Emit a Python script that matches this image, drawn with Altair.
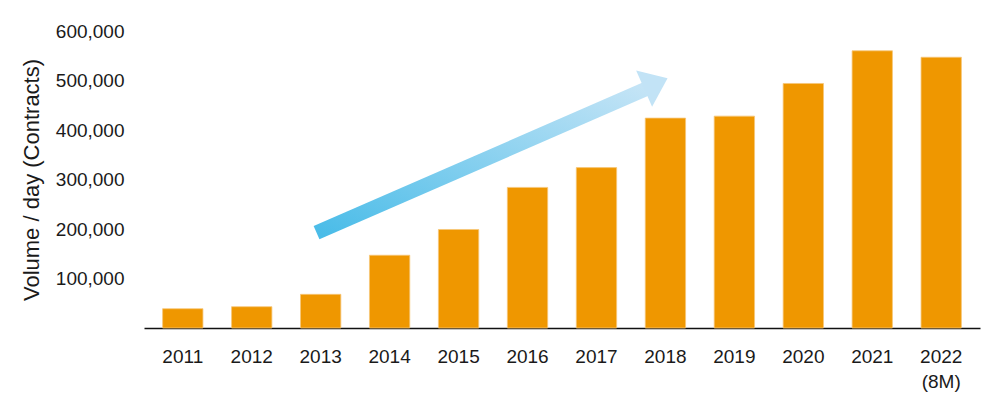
import altair as alt
import pandas as pd

# Bar data
years = ["2011", "2012", "2013", "2014", "2015", "2016",
         "2017", "2018", "2019", "2020", "2021", "2022"]
volumes = [39000, 43000, 68000, 147000, 199000, 284000,
           324000, 424000, 428000, 494000, 560000, 547000]

# Axis text
y_tick_values = [100000, 200000, 300000, 400000, 500000, 600000]
y_title = "Volume / day (Contracts)"
last_label_lines = ["2022", "(8M)"]

# Trend arrow (annotation), in year units / volume units
arrow_shaft_x = [2012.94, 2017.72]
arrow_shaft_y = [192500, 483000]
arrow_head_x = [2017.861]
arrow_head_y = [494000]

bars_df = pd.DataFrame({"year": years, "volume": volumes})
shaft_df = pd.DataFrame({"ax": arrow_shaft_x, "ay": arrow_shaft_y})
head_df = pd.DataFrame({"ax": arrow_head_x, "ay": arrow_head_y})

FONT = "Liberation Sans"
TXT = "#1a1a1a"

bars = alt.Chart(bars_df).mark_bar(
    color="#EF9700", stroke="#F6C779", strokeWidth=0.8
).encode(
    x=alt.X("year:N", sort=years,
            scale=alt.Scale(paddingInner=0.415, paddingOuter=0.27),
            axis=alt.Axis(title=None, labelAngle=0, ticks=False, grid=False,
                          labelPadding=19, labelFontSize=19, labelFont=FONT,
                          labelColor=TXT, labelLineHeight=25,
                          labelBaseline="top",
                          labelExpr="datum.value == '2022' ? ['2022', '(8M)'] : datum.label",
                          domainColor="#111111", domainWidth=1.5)),
    y=alt.Y("volume:Q",
            scale=alt.Scale(domain=[0, 600000], nice=False),
            axis=alt.Axis(title=y_title, values=y_tick_values, format=",d",
                          ticks=False, domain=False, grid=False,
                          labelPadding=20, labelFontSize=19, labelFont=FONT,
                          labelColor=TXT, titleFontSize=22, titleFont=FONT,
                          titleFontWeight="normal", titleColor=TXT,
                          titleX=-101)),
)

xq = alt.Scale(domain=[2010.4375, 2022.5625], nice=False, zero=False)

shaft = alt.Chart(shaft_df).mark_line(
    strokeWidth=14.5, strokeCap="butt",
    color=alt.Gradient(
        gradient="linear",
        stops=[alt.GradientStop(color="#4ABCE8", offset=0),
               alt.GradientStop(color="#C4E4F6", offset=1)],
        x1=0, x2=1, y1=1, y2=0),
).encode(
    x=alt.X("ax:Q", scale=xq, axis=None),
    y=alt.Y("ay:Q"),
)

head = alt.Chart(head_df).mark_point(
    shape="M0.6465,0 L-0.6465,-1 L-0.6465,1 Z",
    filled=True, fill="#C2E3F6", opacity=1, strokeWidth=0,
    size=1568, angle=336.3,
).encode(
    x=alt.X("ax:Q", scale=xq, axis=None),
    y=alt.Y("ay:Q"),
)

chart = alt.layer(bars, shaft, head).resolve_scale(x="independent").properties(
    width=836, height=297,
    background="white",
    autosize=alt.AutoSizeParams(type="none"),
    padding={"left": 136, "top": 23, "right": 10, "bottom": 70},
).configure_view(stroke="transparent", strokeWidth=0).configure_axis(
    grid=False
)

chart.save("out.html", embed_options={"renderer": "svg", "actions": False})
